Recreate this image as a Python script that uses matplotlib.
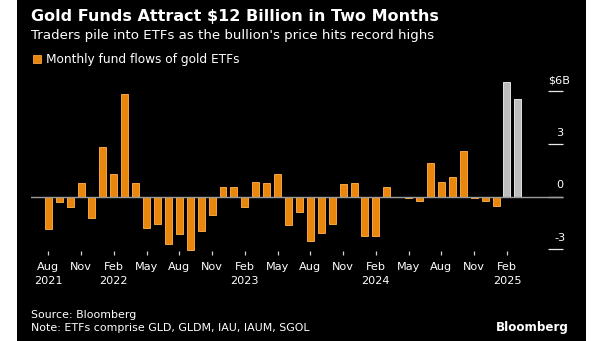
import matplotlib
matplotlib.use("Agg")
import matplotlib.pyplot as plt
from matplotlib.patches import Rectangle
from matplotlib.transforms import ScaledTranslation

# Monthly net flows into US gold ETFs, $ billions (Aug 2021 - Mar 2025)
months = [
    "Aug 2021", "Sep 2021", "Oct 2021", "Nov 2021", "Dec 2021",
    "Jan 2022", "Feb 2022", "Mar 2022", "Apr 2022", "May 2022", "Jun 2022",
    "Jul 2022", "Aug 2022", "Sep 2022", "Oct 2022", "Nov 2022", "Dec 2022",
    "Jan 2023", "Feb 2023", "Mar 2023", "Apr 2023", "May 2023", "Jun 2023",
    "Jul 2023", "Aug 2023", "Sep 2023", "Oct 2023", "Nov 2023", "Dec 2023",
    "Jan 2024", "Feb 2024", "Mar 2024", "Apr 2024", "May 2024", "Jun 2024",
    "Jul 2024", "Aug 2024", "Sep 2024", "Oct 2024", "Nov 2024", "Dec 2024",
    "Jan 2025", "Feb 2025", "Mar 2025",
]
flows = [
    -1.86, -0.32, -0.59, 0.76, -1.20,
    2.83, 1.29, 5.85, 0.76, -1.80, -1.56,
    -2.70, -2.11, -3.04, -1.94, -1.06, 0.55,
    0.55, -0.57, 0.82, 0.80, 1.29, -1.61,
    -0.89, -2.54, -2.07, -1.56, 0.74, 0.76,
    -2.26, -2.22, 0.55, -0.04, -0.10, -0.27,
    1.94, 0.84, 1.14, 2.58, -0.06, -0.25,
    -0.55, 6.55, 5.55,
]
latest_months = ["Feb 2025", "Mar 2025"]

tick_months = months[::3]
tick_labels = []
for i, m in enumerate(tick_months):
    mon, yr = m.split()
    tick_labels.append(f"{mon}\n{yr}" if (mon == "Feb" or i == 0) else mon)

y_ticks = [-3, 0, 3, 6]
y_tick_labels = ["-3", "0", "3", "$6B"]

ORANGE = "#e8870c"
ORANGE_EDGE = "#f5a546"
GRAY = "#bcbcbc"
GRAY_EDGE = "#e2e2e2"
BG = "#000000"
TXT = "#ffffff"
FONT = "DejaVu Sans"

W, H = 605, 341
fig = plt.figure(figsize=(W / 100, H / 100), dpi=100)
fig.patch.set_facecolor("white")

# dark panel
fig.add_artist(Rectangle((17 / W, 0), (586 - 17) / W, 1, transform=fig.transFigure,
                         facecolor=BG, edgecolor="none", zorder=0))

ax = fig.add_axes([31 / W, (H - 251.1) / H, (563 - 31) / W, 175.5 / H])
ax.set_facecolor("none")

x = list(range(len(months)))
colors = [GRAY if m in latest_months else ORANGE for m in months]
edges = [GRAY_EDGE if m in latest_months else ORANGE_EDGE for m in months]
ax.bar(x, flows, width=0.64, color=colors, edgecolor=edges, linewidth=0.7, zorder=2)

ax.axhline(0, color="#9c9c9c", linewidth=1.0, zorder=3)

ax.set_xlim(-1.58, 47.13)
ax.set_ylim(-3.1, 6.9)

for s in ax.spines.values():
    s.set_visible(False)

# x axis: quarterly month ticks with the year under each February
ax.set_xticks(x[::3])
ax.set_xticklabels(tick_labels, fontsize=8.1, color=TXT, family=FONT, linespacing=1.45)
ax.tick_params(axis="x", length=3.2, width=0.9, color="#d0d0d0", pad=5)

# y axis on the right, labels sitting above short inward ticks
ax.yaxis.tick_right()
ax.set_yticks(y_ticks)
ax.set_yticklabels(y_tick_labels, fontsize=8.1, color=TXT, family=FONT)
ax.tick_params(axis="y", direction="in", length=11, width=0.9, color="#e8e8e8",
               pad=-2.5, right=True, left=False, labelright=True, labelleft=False)
lift = ScaledTranslation(0, 4.5 / 72, fig.dpi_scale_trans)
for t in ax.yaxis.get_major_ticks():
    t.label2.set_ha("center")
    t.label2.set_va("bottom")
    t.label2.set_transform(t.label2.get_transform() + lift)

# titles
fig.text(31 / W, 1 - 21 / H, "Gold Funds Attract $12 Billion in Two Months",
         fontsize=11.5, fontweight="bold", color=TXT, family=FONT, va="baseline")
fig.text(31 / W, 1 - 38.5 / H, "Traders pile into ETFs as the bullion's price hits record highs",
         fontsize=9.65, color=TXT, family=FONT, va="baseline")

# legend
fig.add_artist(Rectangle((33 / W, 1 - 63 / H), 8 / W, 8 / H, transform=fig.transFigure,
                         facecolor=ORANGE, edgecolor=ORANGE_EDGE, linewidth=0.6))
fig.text(46 / W, 1 - 63 / H, "Monthly fund flows of gold ETFs",
         fontsize=8.7, color=TXT, family=FONT, va="baseline")

# footer
fig.text(31 / W, 1 - 318 / H, "Source: Bloomberg", fontsize=7.9, color=TXT,
         family=FONT, va="baseline")
fig.text(31 / W, 1 - 331 / H, "Note: ETFs comprise GLD, GLDM, IAU, IAUM, SGOL",
         fontsize=7.9, color=TXT, family=FONT, va="baseline")
fig.text(569 / W, 1 - 331 / H, "Bloomberg", fontsize=8.6, fontweight="bold",
         color=TXT, family=FONT, ha="right", va="baseline")

fig.savefig("out.png", dpi=100, facecolor=fig.get_facecolor())
